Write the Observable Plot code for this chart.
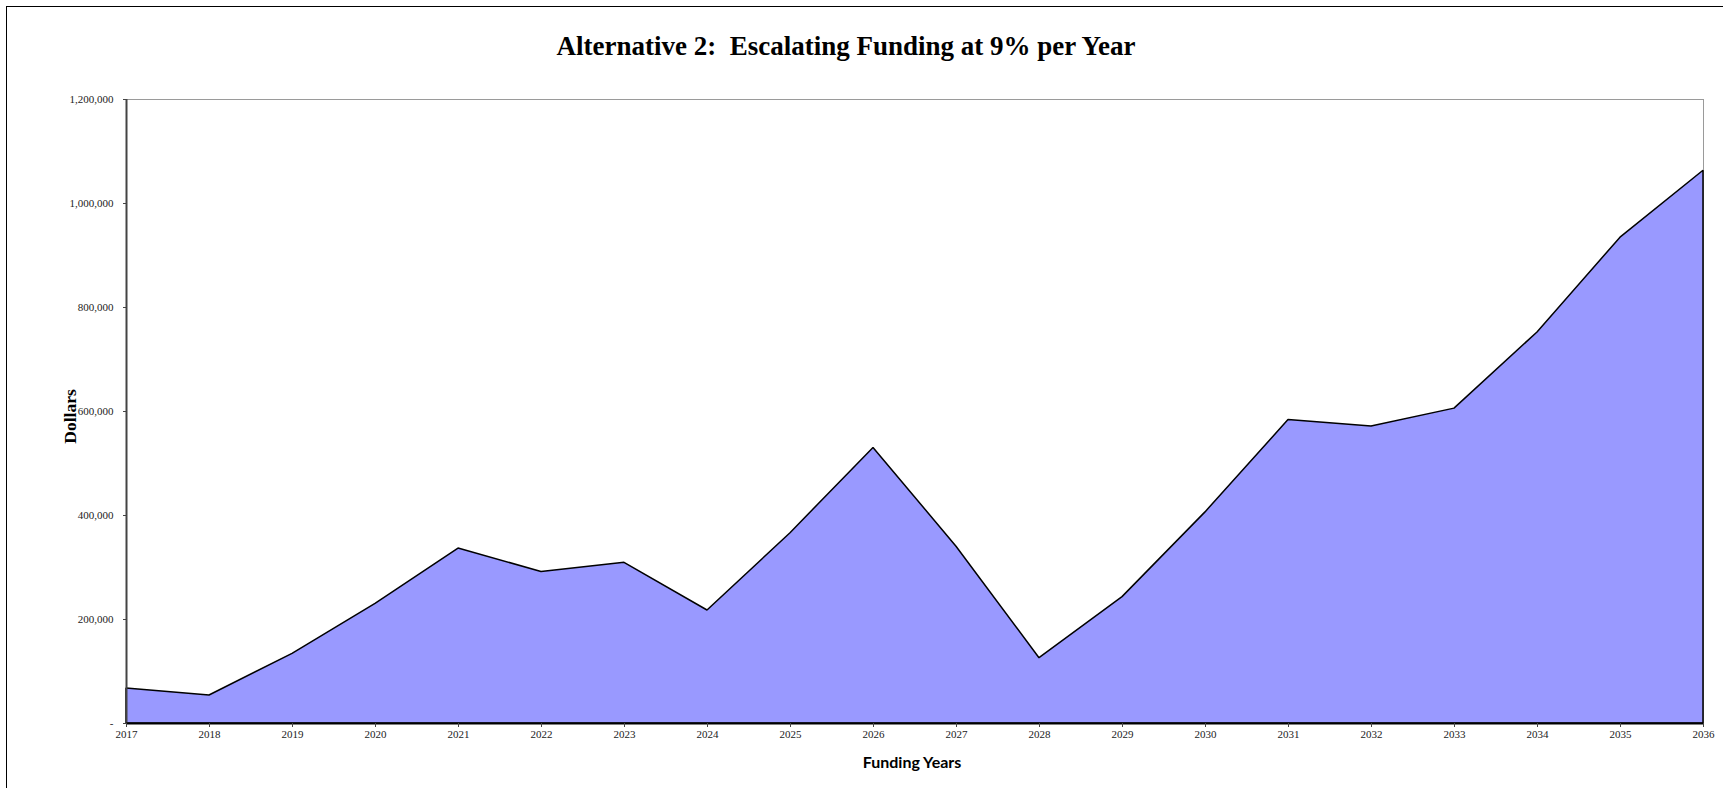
<!DOCTYPE html>
<html>
<head>
<meta charset="utf-8">
<script src="https://cdn.jsdelivr.net/npm/d3@7"></script>
<script src="https://cdn.jsdelivr.net/npm/@observablehq/plot@0.6"></script>
<style>
  html, body { margin: 0; padding: 0; background: #fff; overflow: hidden; }
  #wrap { position: relative; width: 1723px; height: 788px; }
  #chart { position: absolute; left: 0; top: 0; }
  #frame { position: absolute; left: 6px; top: 6px; width: 1800px; height: 900px;
           border: 1.5px solid #000; box-sizing: border-box; pointer-events: none; }
  #title { position: absolute; left: 0; top: 33px; width: 1692px; text-align: center;
           font: bold 27px/27px "Liberation Serif", "Times New Roman", serif; white-space: pre; color: #000; }
</style>
</head>
<body>
<div id="wrap">
  <div id="chart"></div>
  <div id="title"></div>
  <div id="frame"></div>
</div>
<script>
const titleText = "Alternative 2:  Escalating Funding at 9% per Year";
const yLabel = "Dollars";
const xLabel = "Funding Years";
const years = [2017, 2018, 2019, 2020, 2021, 2022, 2023, 2024, 2025, 2026,
               2027, 2028, 2029, 2030, 2031, 2032, 2033, 2034, 2035, 2036];
const dollars = [67300, 53800, 134000, 230000, 336500, 291500, 309000, 217300, 366000, 530000,
                 340000, 125600, 243000, 406000, 583600, 571000, 605500, 752000, 934300, 1063000];
const yTicks = [0, 200000, 400000, 600000, 800000, 1000000, 1200000];

document.getElementById("title").textContent = titleText;

const data = years.map((y, i) => ({year: y, value: dollars[i]}));
const fmt = d3.format(",");

const chart = Plot.plot({
  width: 1723,
  height: 788,
  marginLeft: 126,
  marginRight: 20,
  marginTop: 99,
  marginBottom: 65,
  style: {fontFamily: "'Liberation Serif', 'Times New Roman', serif", background: "transparent", color: "#222"},
  x: {type: "linear", domain: [years[0], years[years.length - 1]]},
  y: {domain: [yTicks[0], yTicks[yTicks.length - 1]]},
  marks: [
    Plot.frame({stroke: "#9a9a9a", strokeWidth: 1}),
    Plot.areaY(data, {x: "year", y: "value", fill: "#9999ff", stroke: "#000", strokeWidth: 1.5, strokeLinejoin: "miter"}),
    Plot.ruleX([years[0]], {stroke: "#444", strokeWidth: 2}),
    Plot.ruleY([yTicks[0]], {stroke: "#000", strokeWidth: 2}),
    Plot.axisX({ticks: years, tickFormat: d => String(d), tickSize: 4, tickPadding: 3, fontSize: 11, label: null, stroke: "#444"}),
    Plot.axisY({ticks: yTicks, tickFormat: d => d === 0 ? "-" : fmt(d), tickSize: 3, tickPadding: 10, fontSize: 11, label: null, stroke: "#444"}),
    Plot.text([yLabel], {frameAnchor: "left", textAnchor: "middle", dx: -56, dy: 5, rotate: -90, fontSize: 17.5, fontWeight: "bold", fill: "#000",
                         fontFamily: "'Liberation Serif', 'Times New Roman', serif"}),
    Plot.text([xLabel], {frameAnchor: "bottom", dx: -3, dy: 44, fontSize: 16, fontWeight: "bold", fill: "#000",
                         fontFamily: "Lato, 'Open Sans', sans-serif"})
  ]
});
document.getElementById("chart").appendChild(chart);
</script>
</body>
</html>
